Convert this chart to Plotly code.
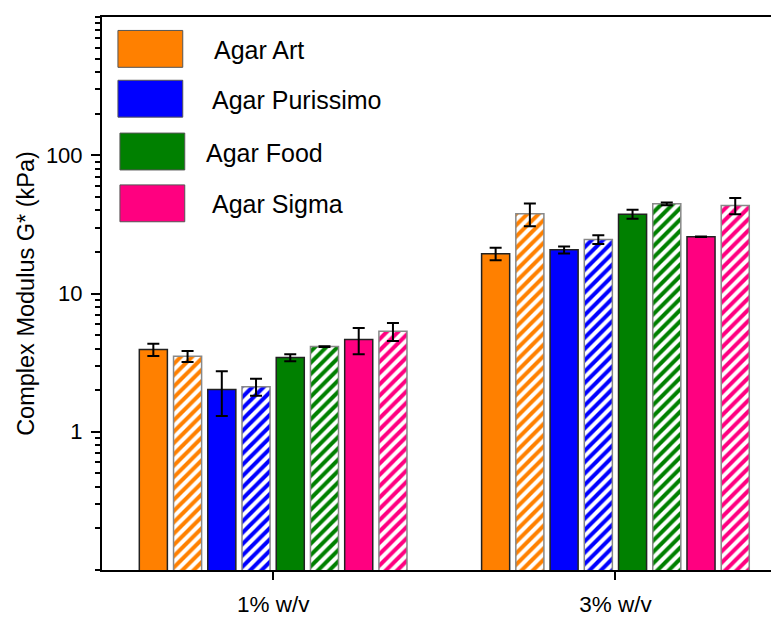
import plotly.graph_objects as go

categories = ["1% w/v", "3% w/v"]
materials = ["Agar Art", "Agar Purissimo", "Agar Food", "Agar Sigma"]
colors = ["#FF8000", "#0000FF", "#008000", "#FF0080"]

solid_vals = [[3.93, 19.4], [2.02, 20.7], [3.44, 37.5], [4.64, 25.7]]
solid_errs = [[0.40, 2.0], [0.72, 1.2], [0.20, 2.8], [1.00, 0.1]]
hatch_vals = [[3.52, 37.7], [2.12, 24.6], [4.13, 44.5], [5.33, 43.3]]
hatch_errs = [[0.32, 7.0], [0.30, 1.8], [0.03, 1.0], [0.80, 5.8]]

# page body has an 8px margin; compensate so the plot lands where the reference is
OFF = 8
W, H = 779 - OFF, 617 - OFF
ML, MR, MT, MB = 102 - OFF, 0, 17 - OFF, 45
PW, PH = W - ML - MR, H - MT - MB

def px(x):
    return (x - OFF - ML) / PW

def py(y):
    return 1 - (y - OFF - MT) / PH

fig = go.Figure()
for i, m in enumerate(materials):
    fig.add_trace(go.Bar(
        x=categories, y=solid_vals[i], name=m, showlegend=False,
        marker=dict(color=colors[i], line=dict(color="#222222", width=1.5)),
        error_y=dict(type="data", array=solid_errs[i], color="black",
                     thickness=2, width=6),
    ))
    fig.add_trace(go.Bar(
        x=categories, y=hatch_vals[i], name=m + " (hatched)", showlegend=False,
        marker=dict(color="white", line=dict(color="#888888", width=1.5),
                    pattern=dict(shape="/", fgcolor=colors[i], bgcolor="white",
                                 fgopacity=1, size=8, solidity=0.5,
                                 fillmode="replace")),
        error_y=dict(type="data", array=hatch_errs[i], color="black",
                     thickness=2, width=6),
    ))

# custom legend (large swatches as in the reference)
legend_y = [49, 99, 152, 204]
legend_box_x = [(118, 183), (118, 183), (120, 185), (120, 185)]
legend_text_x = [212, 210, 204, 210]
shapes = []
annotations = []
for i, m in enumerate(materials):
    x0, x1 = legend_box_x[i]
    yc = legend_y[i]
    shapes.append(dict(type="rect", xref="paper", yref="paper",
                       x0=px(x0), x1=px(x1), y0=py(yc + 18.5), y1=py(yc - 18.5),
                       fillcolor=colors[i], line=dict(color="#555555", width=1)))
    annotations.append(dict(text=m, xref="paper", yref="paper",
                            x=px(legend_text_x[i]), y=py(yc + 1),
                            xanchor="left", yanchor="middle", showarrow=False,
                            font=dict(size=25, color="black")))

fig.update_layout(
    width=W, height=H,
    margin=dict(l=ML, r=MR, t=MT, b=MB),
    paper_bgcolor="white", plot_bgcolor="white",
    font=dict(family="Liberation Sans, Arial, sans-serif", color="black"),
    barmode="group", bargap=0.2, bargroupgap=0.18,
    shapes=shapes, annotations=annotations,
    showlegend=False,
)
fig.update_xaxes(
    range=[-0.5, 1.472], showline=True, linecolor="black", linewidth=2,
    mirror=True, ticks="outside", ticklen=8, tickwidth=1.5, tickcolor="black",
    tickfont=dict(size=22.5), ticklabelstandoff=5, showgrid=False, zeroline=False,
)
fig.update_yaxes(
    type="log", range=[-1, 3], showline=True, linecolor="black", linewidth=2,
    mirror=True, ticks="outside", ticklen=9, tickwidth=2, tickcolor="black",
    tickvals=[1, 10, 100], ticktext=["1", "10", "100"],
    tickfont=dict(size=22), ticklabelstandoff=4, showgrid=False, zeroline=False,
    minor=dict(ticks="outside", ticklen=5, tickwidth=1.5, tickcolor="black",
               dtick="D1", showgrid=False),
    title=dict(text="Complex Modulus G* (kPa)", font=dict(size=23.5), standoff=5),
)

fig.write_html("out.html")
